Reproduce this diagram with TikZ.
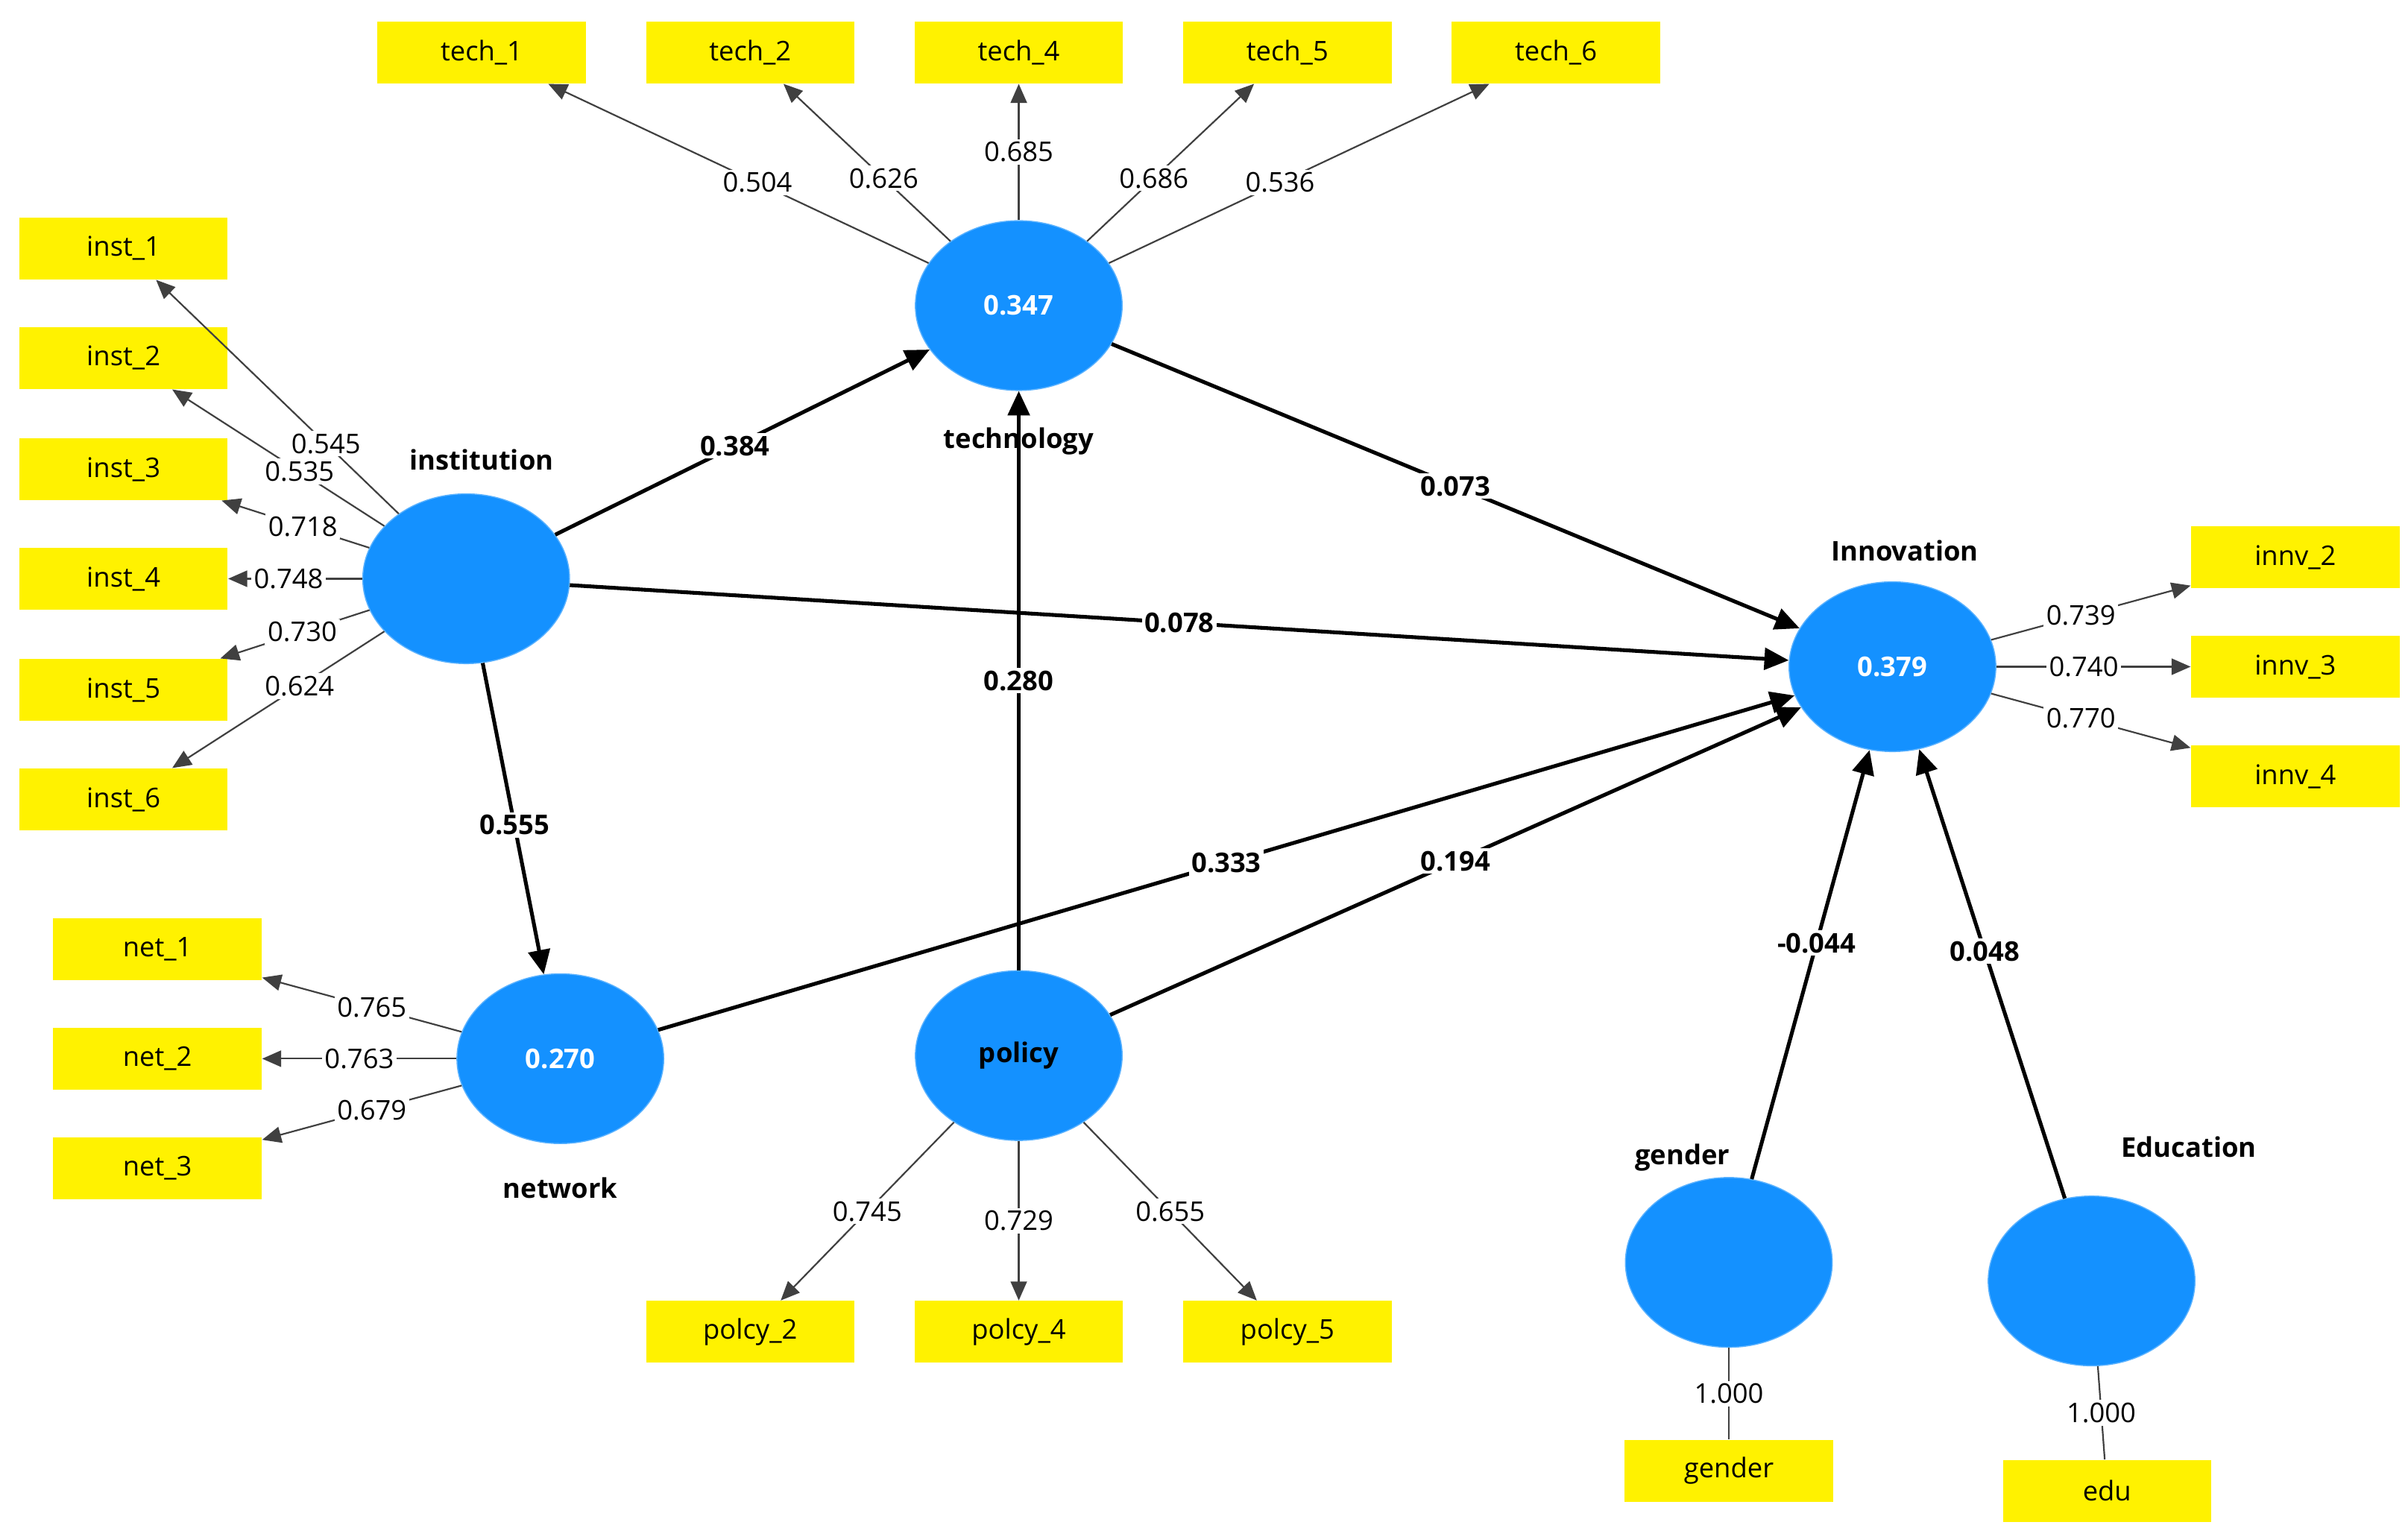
\documentclass[tikz,border=0pt]{standalone}
\usepackage{fontspec}
\setmainfont{Open Sans}
\usetikzlibrary{arrows.meta,shapes.geometric}
\definecolor{lv}{RGB}{20,145,255}
\begin{document}
\begin{tikzpicture}[x=0.02cm,y=-0.02cm,
 box/.style={draw=none,fill=yellow,minimum width=2.7cm,minimum height=0.8cm,inner sep=0pt,font=\fontsize{10}{12}\selectfont},
 lat/.style={ellipse,fill=lv,draw=lv!70!white,minimum width=2.68cm,minimum height=2.2cm,inner sep=0pt,font=\bfseries\fontsize{10}{12}\selectfont,text=white},
 ld/.style={draw=black!75,line width=0.6pt,-{Triangle[length=7pt,width=6pt]}},
 pth/.style={draw=black,line width=1.4pt,-{Triangle[length=9pt,width=8pt]}},
 lbl/.style={fill=white,inner sep=1pt,font=\fontsize{10}{12}\selectfont},
 plbl/.style={fill=white,inner sep=1pt,font=\bfseries\fontsize{10}{12}\selectfont},
 nm/.style={font=\bfseries\fontsize{10}{12}\selectfont}]
\useasboundingbox (0,0) rectangle (1560,988);
% boxes
\node[box] (t1) at (312,34) {tech\_1};
\node[box] (t2) at (486,34) {tech\_2};
\node[box] (t4) at (660,34) {tech\_4};
\node[box] (t5) at (834,34) {tech\_5};
\node[box] (t6) at (1008,34) {tech\_6};
\foreach \i/\y in {1/161,2/232,3/304,4/375,5/447,6/518}{\node[box] (i\i) at (80,\y) {inst\_\i};}
\foreach \i/\y in {1/615,2/686,3/757}{\node[box] (n\i) at (102,\y) {net\_\i};}
\node[box] (p2) at (486,863) {polcy\_2};
\node[box] (p4) at (660,863) {polcy\_4};
\node[box] (p5) at (834,863) {polcy\_5};
\foreach \i/\y in {2/361,3/432,4/503}{\node[box] (v\i) at (1487,\y) {innv\_\i};}
\node[box] (gb) at (1120,953) {gender};
\node[box] (eb) at (1365,966) {edu};
% latents
\node[lat] (tech) at (660,198) {0.347};
\node[lat] (inst) at (302,375) {};
\node[lat] (net) at (363,686) {0.270};
\node[lat,text=black] (pol) at (660,684) {policy};
\node[lat] (inn) at (1226,432) {0.379};
\node[lat] (gen) at (1120,818) {};
\node[lat] (edu) at (1355,830) {};
\node[nm] at (312,298) {institution};
\node[nm] at (660,286) {technology};
\node[nm] at (363,770) {network};
\node[nm] at (1234,357) {Innovation};
\node[nm] at (1090,750) {gender};
\node[nm] at (1418,743) {Education};
% tech loadings
\draw[ld] (tech) -- node[lbl,pos=0.45]{0.504} (t1);
\draw[ld] (tech) -- node[lbl,pos=0.4]{0.626} (t2);
\draw[ld] (tech) -- node[lbl,pos=0.5]{0.685} (t4);
\draw[ld] (tech) -- node[lbl,pos=0.4]{0.686} (t5);
\draw[ld] (tech) -- node[lbl,pos=0.45]{0.536} (t6);
% inst loadings
\draw[ld] (inst) -- node[lbl,pos=0.3]{0.545} (i1);
\draw[ld] (inst) -- node[lbl,pos=0.4]{0.535} (i2);
\draw[ld] (inst) -- node[lbl,pos=0.45]{0.718} (i3);
\draw[ld] (inst) -- node[lbl,pos=0.55]{0.748} (i4);
\draw[ld] (inst) -- node[lbl,pos=0.45]{0.730} (i5);
\draw[ld] (inst) -- node[lbl,pos=0.4]{0.624} (i6);
% net loadings
\draw[ld] (net) -- node[lbl,pos=0.45]{0.765} (n1);
\draw[ld] (net) -- node[lbl,pos=0.5]{0.763} (n2);
\draw[ld] (net) -- node[lbl,pos=0.45]{0.679} (n3);
% policy loadings
\draw[ld] (pol) -- node[lbl,pos=0.5]{0.745} (p2);
\draw[ld] (pol) -- node[lbl,pos=0.5]{0.729} (p4);
\draw[ld] (pol) -- node[lbl,pos=0.5]{0.655} (p5);
% innovation loadings
\draw[ld] (inn) -- node[lbl,pos=0.45]{0.739} (v2);
\draw[ld] (inn) -- node[lbl,pos=0.45]{0.740} (v3);
\draw[ld] (inn) -- node[lbl,pos=0.45]{0.770} (v4);
\draw[draw=black!75,line width=0.6pt] (gen) -- node[lbl]{1.000} (gb);
\draw[draw=black!75,line width=0.6pt] (edu) -- node[lbl]{1.000} (eb);
% paths
\draw[pth] (inst) -- node[plbl,pos=0.48]{0.384} (tech);
\draw[pth] (tech) -- node[plbl,pos=0.5]{0.073} (inn);
\draw[pth] (inst) -- node[plbl,pos=0.5]{0.078} (inn);
\draw[pth] (inst) -- node[plbl,pos=0.52]{0.555} (net);
\draw[pth] (net) -- node[plbl,pos=0.5]{0.333} (inn);
\draw[pth] (pol) -- node[plbl,pos=0.5]{0.280} (tech);
\draw[pth] (pol) -- node[plbl,pos=0.5]{0.194} (inn);
\draw[pth] (gen) -- node[plbl,pos=0.55]{-0.044} (inn);
\draw[pth] (edu) -- node[plbl,pos=0.55]{0.048} (inn);
\end{tikzpicture}
\end{document}
